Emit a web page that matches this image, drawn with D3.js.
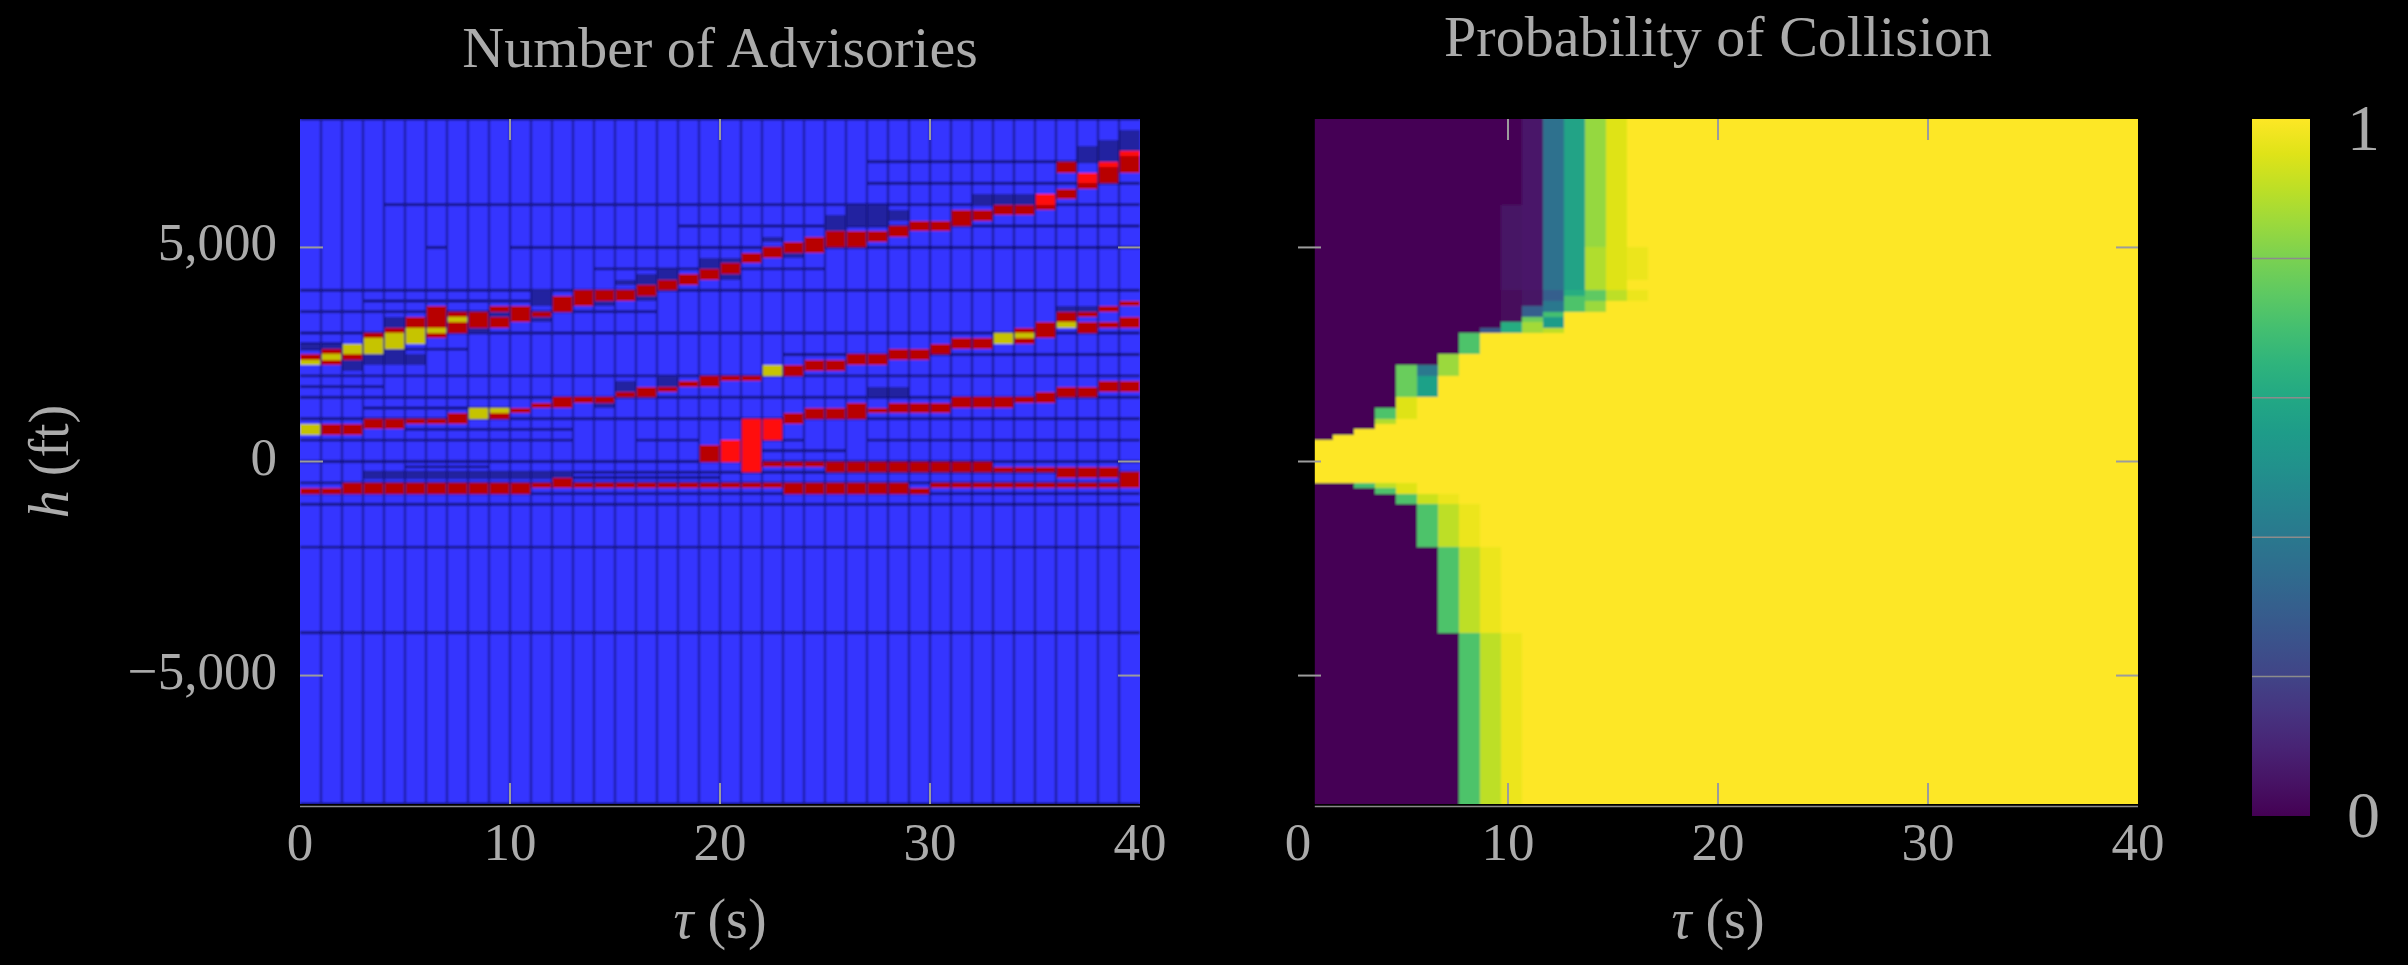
<!DOCTYPE html>
<html>
<head>
<meta charset="utf-8">
<script src="https://cdn.jsdelivr.net/npm/d3@7"></script>
<style>
html, body { margin: 0; background: #000; }
svg { display: block; }
</style>
</head>
<body>
<svg id="fig" width="2408" height="965"></svg>
<script>
// axes
const tauTicks = [0, 10, 20, 30, 40];
const hTicks = [-5000, 0, 5000];
const cbTicks = [0.2, 0.4, 0.6, 0.8];
const cbLabels = [0, 1];

// Number of Advisories: cells one second wide, [tau, hLow, hHigh, kind]
const upperBand = [
	[0, 2375, 2500, "r"], [0, 2250, 2375, "y"],
	[1, 2500, 2625, "r"], [1, 2375, 2500, "y"], [1, 2250, 2375, "r"],
	[2, 2500, 2750, "y"], [2, 2375, 2500, "r"],
	[3, 2875, 3000, "r"], [3, 2500, 2875, "y"],
	[4, 3000, 3125, "r"], [4, 2625, 3000, "y"],
	[5, 3125, 3375, "r"], [5, 2750, 3125, "y"],
	[6, 3125, 3625, "r"], [6, 3000, 3125, "y"], [6, 2875, 3000, "r"],
	[7, 3375, 3500, "r"], [7, 3250, 3375, "y"], [7, 3000, 3250, "r"],
	[8, 3125, 3500, "r"],
	[9, 3500, 3625, "r"], [9, 3125, 3375, "r"],
	[10, 3250, 3625, "r"],
	[11, 3375, 3500, "r"],
	[12, 3500, 3875, "r"],
	[13, 3625, 4000, "r"],
	[14, 3750, 4000, "r"],
	[15, 3750, 4000, "r"],
	[16, 3875, 4125, "r"],
	[17, 4000, 4250, "r"],
	[18, 4125, 4375, "r"],
	[19, 4250, 4500, "r"],
	[20, 4375, 4625, "r"],
	[21, 4625, 4875, "r"],
	[22, 4750, 5000, "r"],
	[23, 4875, 5125, "r"],
	[24, 4875, 5250, "r"],
	[25, 5000, 5375, "r"],
	[26, 5000, 5375, "r"],
	[27, 5125, 5375, "r"],
	[28, 5250, 5500, "r"],
	[29, 5375, 5625, "r"],
	[30, 5375, 5625, "r"],
	[31, 5500, 5875, "r"],
	[32, 5625, 5875, "r"],
	[33, 5750, 6000, "r"],
	[34, 5750, 6000, "r"],
	[35, 6000, 6250, "R"], [35, 5875, 6000, "r"],
	[36, 6750, 7000, "r"], [36, 6125, 6375, "r"],
	[37, 6500, 6750, "R"], [37, 6375, 6500, "r"],
	[38, 6875, 7000, "R"], [38, 6500, 6875, "r"],
	[39, 7125, 7250, "R"], [39, 6750, 7125, "r"]
];
const middleBand = [
	[0, 625, 875, "y"],
	[1, 625, 875, "r"], [2, 625, 875, "r"],
	[3, 750, 1000, "r"], [4, 750, 1000, "r"],
	[5, 875, 1000, "r"], [6, 875, 1000, "r"],
	[7, 875, 1125, "r"],
	[8, 1000, 1250, "y"],
	[9, 1125, 1250, "y"], [9, 1000, 1125, "r"],
	[10, 1125, 1250, "r"],
	[11, 1250, 1375, "r"],
	[12, 1250, 1500, "r"],
	[13, 1375, 1500, "r"], [14, 1375, 1500, "r"],
	[15, 1500, 1625, "r"],
	[16, 1500, 1750, "r"],
	[17, 1625, 1750, "r"],
	[18, 1750, 1875, "r"],
	[19, 1750, 2000, "r"],
	[20, 1875, 2000, "r"], [21, 1875, 2000, "r"],
	[22, 2000, 2250, "y"],
	[23, 2000, 2250, "r"],
	[24, 2125, 2375, "r"], [25, 2125, 2375, "r"],
	[26, 2250, 2500, "r"], [27, 2250, 2500, "r"],
	[28, 2375, 2625, "r"], [29, 2375, 2625, "r"],
	[30, 2500, 2750, "r"],
	[31, 2625, 2875, "r"], [32, 2625, 2875, "r"],
	[33, 2750, 3000, "y"],
	[34, 3000, 3125, "r"], [34, 2875, 3000, "y"], [34, 2750, 2875, "r"],
	[35, 2875, 3250, "r"],
	[36, 3250, 3500, "r"], [36, 3125, 3250, "y"],
	[37, 3375, 3500, "r"], [37, 3000, 3250, "r"],
	[38, 3500, 3625, "r"], [38, 3125, 3250, "r"],
	[39, 3625, 3750, "r"], [39, 3125, 3375, "r"]
];
const lowerBand = [
	[19, 0, 375, "r"],
	[20, 0, 500, "R"],
	[21, -250, 1000, "R"],
	[22, 500, 1000, "R"],
	[23, 875, 1125, "r"],
	[24, 1000, 1250, "r"], [25, 1000, 1250, "r"],
	[26, 1000, 1375, "r"],
	[27, 1125, 1250, "r"],
	[28, 1125, 1375, "r"], [29, 1125, 1375, "r"], [30, 1125, 1375, "r"],
	[31, 1250, 1500, "r"], [32, 1250, 1500, "r"], [33, 1250, 1500, "r"],
	[34, 1375, 1500, "r"],
	[35, 1375, 1625, "r"],
	[36, 1500, 1750, "r"], [37, 1500, 1750, "r"],
	[38, 1625, 1875, "r"], [39, 1625, 1875, "r"]
];
// level bands, [tau0, tau1, hLow, hHigh, kind]
const levelBands = [
	[0, 2, -750, -625, "r"], [2, 11, -750, -500, "r"], [11, 12, -625, -500, "r"],
	[12, 13, -625, -375, "r"], [13, 23, -625, -500, "r"], [23, 29, -750, -500, "r"],
	[29, 30, -750, -625, "r"], [30, 40, -625, -500, "r"],
	[22, 25, -125, 0, "r"], [25, 33, -250, 0, "r"], [33, 36, -250, -125, "r"],
	[36, 39, -375, -125, "r"], [39, 40, -500, -250, "r"]
];
// darker cells beside the bands, [tau0, tau1, hLow, hHigh]
const shadowCells = [
	[0, 2, 2625, 2750], [2, 3, 2125, 2375], [3, 6, 2250, 2500], [4, 5, 2500, 2625],
	[4, 5, 3125, 3375], [8, 9, 3000, 3125], [9, 10, 3375, 3500], [11, 12, 3625, 4000],
	[11, 12, 3250, 3375], [14, 15, 3625, 3750], [15, 16, 4125, 4250], [16, 17, 4125, 4375],
	[16, 17, 3750, 3875], [17, 18, 4250, 4500], [19, 20, 4500, 4750], [20, 21, 4625, 4750],
	[20, 21, 4250, 4375], [22, 23, 5125, 5250], [23, 24, 4750, 4875], [25, 26, 5375, 5750],
	[26, 28, 5500, 6000], [28, 29, 5625, 5875], [32, 35, 6000, 6250], [37, 38, 7000, 7375],
	[38, 39, 7000, 7500], [39, 40, 7250, 7750], [14, 15, 1250, 1375], [15, 16, 1625, 1875],
	[17, 18, 1750, 2000], [27, 29, 1500, 1750], [36, 38, 3500, 3625], [3, 13, -375, -250]
];
// cell boundaries of the advisory grid, [h, tau0, tau1]
const gridRows = [
	[8000, 0, 40], [7000, 27, 40], [6500, 27, 40], [6000, 4, 40], [5500, 18, 40],
	[5000, 6, 7], [5000, 10, 40], [4500, 14, 25], [4000, 0, 40], [3750, 3, 12],
	[3500, 0, 17], [3000, 0, 40], [2750, 0, 2], [2625, 0, 8], [2500, 23, 40],
	[2000, 0, 40], [1750, 0, 4], [1500, 0, 40], [1250, 3, 10], [1000, 0, 40],
	[750, 5, 13], [500, 0, 13], [500, 16, 19], [500, 22, 24], [500, 27, 40],
	[250, 20, 26], [0, 0, 40], [-125, 5, 9], [-250, 3, 40], [-375, 3, 20],
	[-500, 0, 40], [-750, 0, 40], [-1000, 0, 40], [-2000, 0, 40], [-4000, 0, 40],
	[-8000, 0, 40]
];
const gridCols = d3.range(1, 40);
const kindColor = { r: "#b80000", R: "#ff1010", y: "#c6c400", d: "#2323a0" };

// Probability of Collision
const probColEdges = [0.8, 1.65, 2.65, 3.65, 4.65, 5.65, 6.65, 7.65, 8.65, 9.65, 10.65, 11.65, 12.65, 13.65, 14.65, 15.65, 16.65];
// [column, hLow, hHigh, p]; everything else is p = 1
const probCells = [
	[0, 500, 8000, 0], [0, -8000, -500, 0],
	[1, 625, 8000, 0], [1, -8000, -500, 0],
	[2, 750, 8000, 0], [2, -625, -500, 0.7], [2, -8000, -625, 0],
	[3, 1250, 8000, 0], [3, 1000, 1250, 0.72], [3, 875, 1000, 0.88],
	[3, -625, -500, 0.9], [3, -750, -625, 0.72], [3, -8000, -750, 0],
	[4, 2250, 8000, 0], [4, 1500, 2250, 0.77], [4, 1000, 1500, 0.95],
	[4, -750, -500, 0.95], [4, -1000, -750, 0.72], [4, -8000, -1000, 0],
	[5, 2250, 8000, 0], [5, 2000, 2250, 0.4], [5, 1500, 2000, 0.57],
	[5, -1000, -750, 0.92], [5, -2000, -1000, 0.72], [5, -8000, -2000, 0],
	[6, 2500, 8000, 0], [6, 2000, 2500, 0.85],
	[6, -1000, -750, 0.97], [6, -2000, -1000, 0.9], [6, -4000, -2000, 0.72], [6, -8000, -4000, 0],
	[7, 3000, 8000, 0], [7, 2500, 3000, 0.72],
	[7, -2000, -1000, 0.97], [7, -4000, -2000, 0.9], [7, -8000, -4000, 0.72],
	[8, 3125, 8000, 0], [8, 3000, 3125, 0.27], [8, -4000, -2000, 0.97], [8, -8000, -4000, 0.9],
	[9, 6000, 8000, 0], [9, 4000, 6000, 0.05], [9, 3250, 4000, 0.02], [9, 3000, 3250, 0.62],
	[9, -8000, -4000, 0.97],
	[10, 4000, 8000, 0.06], [10, 3625, 4000, 0.05], [10, 3375, 3625, 0.3],
	[10, 3250, 3375, 0.78], [10, 3000, 3250, 0.86],
	[11, 4000, 8000, 0.37], [11, 3750, 4000, 0.3], [11, 3500, 3750, 0.4],
	[11, 3375, 3500, 0.7], [11, 3125, 3375, 0.55], [11, 3000, 3125, 0.9],
	[12, 4000, 8000, 0.58], [12, 3875, 4000, 0.62], [12, 3500, 3875, 0.72],
	[13, 5000, 8000, 0.84], [13, 4000, 5000, 0.88], [13, 3750, 4000, 0.75], [13, 3500, 3750, 0.85],
	[14, 4000, 8000, 0.95], [14, 3750, 4000, 0.9],
	[15, 4250, 5000, 0.97], [15, 3750, 4000, 0.97]
];

const FONT = "'Liberation Serif', 'DejaVu Serif', serif";
const TXT = "#ababab";
const TICK = "#9c9c9c";

const svg = d3.select("#fig");
svg.append("rect").attr("width", 2408).attr("height", 965).attr("fill", "#000");

const y = d3.scaleLinear().domain([-8000, 8000]).range([804, 119]);
const xL = d3.scaleLinear().domain([0, 40]).range([300, 1140]);
const xR = d3.scaleLinear().domain([0, 40]).range([1298, 2138]);

const defs = svg.append("defs");
defs.append("filter")
	.attr("id", "soft")
	.attr("filterUnits", "userSpaceOnUse")
	.attr("x", 0).attr("y", 0).attr("width", 2408).attr("height", 965)
	.append("feGaussianBlur")
	.attr("stdDeviation", 1.1);
defs.append("clipPath").attr("id", "clipL")
	.append("rect")
	.attr("x", xL(0)).attr("y", y(8000))
	.attr("width", xL(40) - xL(0)).attr("height", y(-8000) - y(8000));
defs.append("clipPath").attr("id", "clipR")
	.append("rect")
	.attr("x", xR(0.8)).attr("y", y(8000))
	.attr("width", xR(40) - xR(0.8)).attr("height", y(-8000) - y(8000));

// ---------- left: Number of Advisories ----------
{
	const g = svg.append("g").attr("clip-path", "url(#clipL)")
		.append("g").attr("filter", "url(#soft)");

	g.append("rect")
		.attr("x", xL(0) - 4).attr("y", y(8000) - 4)
		.attr("width", xL(40) - xL(0) + 8).attr("height", y(-8000) - y(8000) + 8)
		.attr("fill", "#3535ff");

	// row boundaries sit under the coloured cells
	g.selectAll("line.row")
		.data(gridRows)
		.join("line")
		.attr("class", "row")
		.attr("x1", d => xL(d[1])).attr("x2", d => xL(d[2]))
		.attr("y1", d => y(d[0])).attr("y2", d => y(d[0]))
		.attr("stroke", "#0e0e66")
		.attr("stroke-width", 2.4);

	const cell = (t0, t1, lo, hi, fill) => g.append("rect")
		.attr("x", xL(t0)).attr("y", y(hi))
		.attr("width", xL(t1) - xL(t0)).attr("height", y(lo) - y(hi))
		.attr("fill", fill)
		.attr("shape-rendering", "crispEdges");

	shadowCells.forEach(d => cell(d[0], d[1], d[2], d[3], kindColor.d));
	levelBands.forEach(d => cell(d[0], d[1], d[2], d[3], kindColor[d[4]]));
	[upperBand, middleBand, lowerBand].forEach(band =>
		band.forEach(d => cell(d[0], d[0] + 1, d[1], d[2], kindColor[d[3]])));

	g.selectAll("line.col")
		.data(gridCols)
		.join("line")
		.attr("class", "col")
		.attr("x1", d => xL(d)).attr("x2", d => xL(d))
		.attr("y1", y(8000)).attr("y2", y(-8000))
		.attr("stroke", d => d >= 28 ? "#10106c" : "#17177e")
		.attr("stroke-opacity", 0.85)
		.attr("stroke-width", 2);
}

// ---------- right: Probability of Collision ----------
{
	const g = svg.append("g").attr("clip-path", "url(#clipR)")
		.append("g").attr("filter", "url(#soft)");

	g.append("rect")
		.attr("x", xR(0.8) - 4).attr("y", y(8000) - 4)
		.attr("width", xR(40) - xR(0.8) + 8).attr("height", y(-8000) - y(8000) + 8)
		.attr("fill", d3.interpolateViridis(1));

	g.selectAll("rect.p")
		.data(probCells)
		.join("rect")
		.attr("class", "p")
		.attr("x", d => xR(probColEdges[d[0]]) - (d[0] === 0 ? 4 : 0))
		.attr("y", d => y(d[2]) - (d[2] === 8000 ? 4 : 0))
		.attr("width", d => xR(probColEdges[d[0] + 1]) - xR(probColEdges[d[0]]) + (d[0] === 0 ? 4 : 0))
		.attr("height", d => y(d[1]) - y(d[2]) + (d[2] === 8000 ? 4 : 0) + (d[1] === -8000 ? 4 : 0))
		.attr("fill", d => d3.interpolateViridis(d[3]))
		.attr("shape-rendering", "crispEdges");
}

// ---------- ticks, spines, labels ----------
function frame(x, left, right, showY) {
	const inner = [10, 20, 30];
	svg.append("g").selectAll("line")
		.data(inner)
		.join("line")
		.attr("x1", d => x(d)).attr("x2", d => x(d))
		.attr("y1", y(8000)).attr("y2", y(8000) + 21)
		.attr("stroke", TICK).attr("stroke-width", 2);
	svg.append("g").selectAll("line")
		.data(inner)
		.join("line")
		.attr("x1", d => x(d)).attr("x2", d => x(d))
		.attr("y1", y(-8000) - 21).attr("y2", y(-8000))
		.attr("stroke", TICK).attr("stroke-width", 2);
	svg.append("g").selectAll("line")
		.data(hTicks)
		.join("line")
		.attr("x1", x(0)).attr("x2", x(0) + 23)
		.attr("y1", d => y(d)).attr("y2", d => y(d))
		.attr("stroke", TICK).attr("stroke-width", 2);
	svg.append("g").selectAll("line")
		.data(hTicks)
		.join("line")
		.attr("x1", x(40) - 22).attr("x2", x(40))
		.attr("y1", d => y(d)).attr("y2", d => y(d))
		.attr("stroke", TICK).attr("stroke-width", 2);

	svg.append("line")
		.attr("x1", left).attr("x2", right)
		.attr("y1", 806.5).attr("y2", 806.5)
		.attr("stroke", "#8a8a8a").attr("stroke-width", 1.5);

	svg.append("g").selectAll("text")
		.data(tauTicks)
		.join("text")
		.attr("x", d => x(d)).attr("y", 860)
		.attr("text-anchor", "middle")
		.attr("font-family", FONT).attr("font-size", 53)
		.attr("fill", TXT)
		.text(d => d);

	const lab = svg.append("text")
		.attr("x", x(20)).attr("y", 938)
		.attr("text-anchor", "middle")
		.attr("font-family", FONT).attr("font-size", 56)
		.attr("fill", TXT);
	lab.append("tspan").attr("font-style", "italic").text("τ");
	lab.append("tspan").text(" (s)");

	if (showY) {
		svg.append("g").selectAll("text")
			.data(hTicks)
			.join("text")
			.attr("x", 277).attr("y", d => y(d) + 13)
			.attr("text-anchor", "end")
			.attr("font-family", FONT).attr("font-size", 53)
			.attr("fill", TXT)
			.text(d => d3.format(",")(d).replace("-", "\u2212"));
	}
}

frame(xL, xL(0), xL(40), true);
frame(xR, xR(0.8), xR(40), false);

svg.append("text")
	.attr("x", xL(20)).attr("y", 67)
	.attr("text-anchor", "middle")
	.attr("font-family", FONT).attr("font-size", 58)
	.attr("fill", TXT)
	.text("Number of Advisories");
svg.append("text")
	.attr("x", xR(20)).attr("y", 56)
	.attr("text-anchor", "middle")
	.attr("font-family", FONT).attr("font-size", 58)
	.attr("fill", TXT)
	.text("Probability of Collision");

{
	const yl = svg.append("text")
		.attr("transform", `translate(68, ${y(0)}) rotate(-90)`)
		.attr("text-anchor", "middle")
		.attr("font-family", FONT).attr("font-size", 56)
		.attr("fill", TXT);
	yl.append("tspan").attr("font-style", "italic").text("h");
	yl.append("tspan").text(" (ft)");
}

// ---------- colorbar ----------
{
	const cb = d3.scaleLinear().domain([0, 1]).range([816, 119]);
	const grad = defs.append("linearGradient")
		.attr("id", "viridis")
		.attr("x1", 0).attr("y1", 1).attr("x2", 0).attr("y2", 0);
	d3.range(0, 1.0001, 0.05).forEach(t => grad.append("stop")
		.attr("offset", t)
		.attr("stop-color", d3.interpolateViridis(t)));
	svg.append("rect")
		.attr("x", 2252).attr("y", cb(1))
		.attr("width", 58).attr("height", cb(0) - cb(1))
		.attr("fill", "url(#viridis)");
	svg.append("g").selectAll("line")
		.data(cbTicks)
		.join("line")
		.attr("x1", 2252).attr("x2", 2310)
		.attr("y1", d => cb(d)).attr("y2", d => cb(d))
		.attr("stroke", "#8c8c8c").attr("stroke-width", 1.5);
	svg.append("g").selectAll("text")
		.data(cbLabels)
		.join("text")
		.attr("x", 2347)
		.attr("y", d => d === 1 ? cb(1) + 31 : cb(0) + 21)
		.attr("font-family", FONT).attr("font-size", 66)
		.attr("fill", TXT)
		.text(d => d);
}
</script>
</body>
</html>
